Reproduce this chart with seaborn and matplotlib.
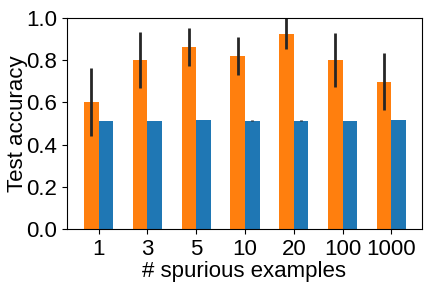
import numpy as np
import pandas as pd
import seaborn as sns
import matplotlib.pyplot as plt

plt.rcParams['font.family'] = ['Liberation Sans', 'DejaVu Sans']

# number of spurious examples (x categories)
n_spurious = ["1", "3", "5", "10", "20", "100", "1000"]
# orange series: mean accuracy and error
orange_acc = [0.603, 0.802, 0.864, 0.821, 0.926, 0.802, 0.699]
orange_err = [0.162, 0.132, 0.091, 0.089, 0.074, 0.127, 0.137]
# blue series: mean accuracy and error
blue_acc = [0.513, 0.513, 0.517, 0.513, 0.513, 0.513, 0.517]
blue_err = [0.0, 0.0, 0.002, 0.002, 0.002, 0.0, 0.002]

series = ["a", "b"]
df = pd.DataFrame({
    "n": n_spurious * 2,
    "acc": orange_acc + blue_acc,
    "err": orange_err + blue_err,
    "series": [series[0]] * len(n_spurious) + [series[1]] * len(n_spurious),
})

fig, ax = plt.subplots(figsize=(4.32, 2.88), dpi=100)
sns.barplot(data=df, x="n", y="acc", hue="series", hue_order=series,
            order=n_spurious, palette=["#ff7f0e", "#1f77b4"], width=0.6,
            errorbar=None, saturation=1, legend=False, ax=ax)

# error bars from the stored errors, placed at the bar centers
for container, name in zip(ax.containers, series):
    sub = df[df["series"] == name]
    xs = [p.get_x() + p.get_width() / 2 for p in container.patches]
    ax.errorbar(xs, sub["acc"], yerr=sub["err"], fmt="none",
                ecolor="#262626", elinewidth=2, capsize=0)

ax.set_ylim(0, 1.0)
ax.set_xlim(-0.65, 6.62)
ax.set_yticks([0.0, 0.2, 0.4, 0.6, 0.8, 1.0])
ax.set_xlabel("# spurious examples", fontsize=16)
ax.set_ylabel("Test accuracy", fontsize=16)
ax.tick_params(labelsize=16)
ax.yaxis.set_label_coords(-0.11, 0.5)
ax.xaxis.set_label_coords(0.5, -0.15)

fig.subplots_adjust(left=0.155, right=0.976, top=0.937, bottom=0.205)
fig.savefig("out.png")
